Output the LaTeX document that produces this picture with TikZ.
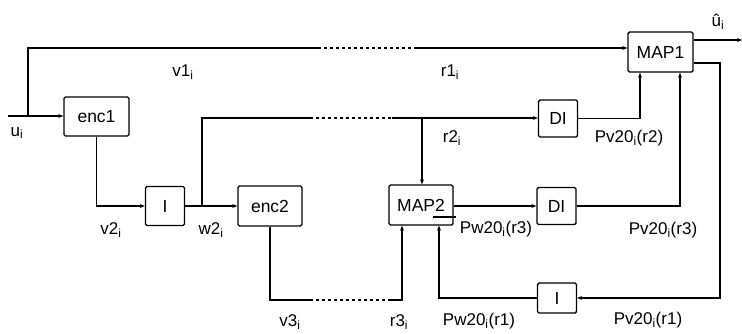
\documentclass[tikz,border=0pt]{standalone}
\usepackage{fontspec}
\setmainfont{Liberation Sans}
\usetikzlibrary{arrows.meta}
\begin{document}
\begin{tikzpicture}[x=1pt,y=-1pt,
  blk/.style={draw,line width=1.4pt,rounded corners=1.5pt,inner sep=0pt,font=\fontsize{17.5}{20}\selectfont},
  lbl/.style={inner sep=0pt,font=\fontsize{17}{20}\selectfont},
  wire/.style={line width=1.3pt},
  arr/.style={wire,-{Stealth[length=5pt,width=4pt]}},
  dsh/.style={wire,dash pattern=on 3pt off 3pt}]
\useasboundingbox (0,0) rectangle (742,333);
% blocks
\node[blk,minimum width=65pt,minimum height=39pt] (enc1) at (96.5,116.5) {enc1};
\node[blk,minimum width=39pt,minimum height=39pt] (I1) at (165,206) {I};
\node[blk,minimum width=64pt,minimum height=40pt] (enc2) at (270,206) {enc2};
\node[blk,minimum width=64pt,minimum height=40pt] (MAP2) at (421,205) {MAP2};
\node[blk,minimum width=65pt,minimum height=40pt] (MAP1) at (660.5,52) {MAP1};
\node[blk,minimum width=39pt,minimum height=37pt] (DI1) at (558,118.5) {DI};
\node[blk,minimum width=39pt,minimum height=37pt] (DI2) at (556.5,206) {DI};
\node[blk,minimum width=39pt,minimum height=30pt] (I2) at (557,298) {I};
% coordinates
\coordinate (uin) at (8,116);
\coordinate (usplit) at (28,116);
\coordinate (t1) at (28,48);
\coordinate (t2) at (318,48);
\coordinate (t3) at (417,48);
\coordinate (m1in) at (MAP1.west |- t1);
\coordinate (wsplit) at (202,206);
\coordinate (r1) at (202,118);
\coordinate (r2) at (310,118);
\coordinate (r3) at (392,118);
\coordinate (r2down) at (422,118);
\coordinate (e2a) at (270,300);
\coordinate (e2b) at (310,300);
\coordinate (e2c) at (388,300);
\coordinate (e2d) at (402,300);
\coordinate (out1) at (742,40);
\coordinate (fb) at (720,63);
\coordinate (fbd) at (720,298);
\coordinate (i2l) at (439,298);
\coordinate (pwa) at (433,217);
\coordinate (pwb) at (456,217);
% wires
\draw[arr] (uin) -- (enc1.west |- uin);
\draw[wire] (usplit) -- (t1) -- (t2);
\draw[dsh] (t2) -- (t3);
\draw[arr] (t3) -- (m1in);
\draw[arr] (enc1.south) |- (I1.west);
\draw[arr] (I1.east) -- (enc2.west);
\draw[wire] (wsplit) -- (r1) -- (r2);
\draw[dsh] (r2) -- (r3);
\draw[arr] (r3) -- (DI1.west |- r3);
\draw[arr] (r2down) -- (MAP2.north -| r2down);
\draw[wire] (enc2.south) -- (e2a) -- (e2b);
\draw[dsh] (e2b) -- (e2c);
\draw[arr] (e2c) -- (e2d) -- (MAP2.south -| e2d);
\draw[arr] (MAP2.east |- DI2.west) -- (DI2.west);
\draw[wire] (pwa) -- (pwb);
\draw[arr] (DI1.east) -| (MAP1.south -| 640,0);
\draw[arr] (DI2.east) -| (MAP1.south -| 680,0);
\draw[arr] (MAP1.east |- out1) -- (out1);
\draw[arr] (MAP1.east |- fb) -- (fb) -- (fbd) -- (I2.east);
\draw[arr] (I2.west) -- (i2l) -- (MAP2.south -| i2l);
% labels
\node[lbl] (lu) at (17,133) {u\textsubscript{i}};
\node[lbl] (luh) at (718,22) {\^{u}\textsubscript{i}};
\node[lbl] (lv1) at (183,72) {v1\textsubscript{i}};
\node[lbl] (lr1) at (450,72) {r1\textsubscript{i}};
\node[lbl] (lr2) at (452,138) {r2\textsubscript{i}};
\node[lbl] (lpv2) at (629,138) {Pv20\textsubscript{i}(r2)};
\node[lbl] (lv2) at (111,230) {v2\textsubscript{i}};
\node[lbl] (lw2) at (211,230) {w2\textsubscript{i}};
\node[lbl] (lpw3) at (496,229) {Pw20\textsubscript{i}(r3)};
\node[lbl] (lpv3) at (663,230) {Pv20\textsubscript{i}(r3)};
\node[lbl] (lv3) at (290,322) {v3\textsubscript{i}};
\node[lbl] (lr3) at (399,322) {r3\textsubscript{i}};
\node[lbl] (lpw1) at (479,321) {Pw20\textsubscript{i}(r1)};
\node[lbl] (lpv1) at (648,320) {Pv20\textsubscript{i}(r1)};
\end{tikzpicture}
\end{document}
